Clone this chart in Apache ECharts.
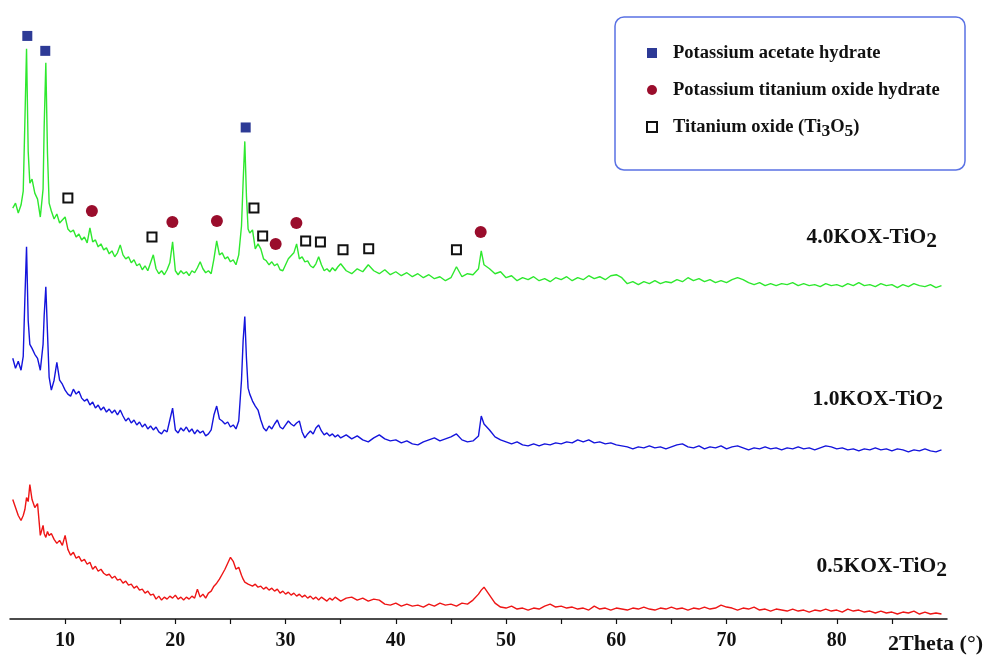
<!DOCTYPE html>
<html><head><meta charset="utf-8">
<script src="https://cdn.jsdelivr.net/npm/echarts@6/dist/echarts.min.js"></script>
<style>html,body{margin:0;padding:0;background:#fff}#c{width:988px;height:655px}</style>
</head><body><div id="c"></div>
<script>
// 2Theta grid (degrees)
const twoTheta = [
5.25,5.5,5.75,6.0,6.2,6.35,6.5,6.65,6.8,7.0,
7.25,7.5,7.75,8.0,8.1,8.25,8.4,8.55,8.75,9.0,
9.25,9.5,9.75,10.0,10.25,10.5,10.75,11.0,11.25,11.5,
11.75,12.0,12.25,12.5,12.75,13.0,13.25,13.5,13.75,14.0,
14.25,14.5,14.75,15.0,15.25,15.5,15.75,16.0,16.25,16.5,
16.75,17.0,17.25,17.5,17.75,18.0,18.25,18.5,18.75,19.0,
19.25,19.5,19.75,20.0,20.25,20.5,20.75,21.0,21.25,21.5,
21.75,22.0,22.25,22.5,22.75,23.0,23.25,23.5,23.75,24.0,
24.25,24.5,24.75,25.0,25.25,25.5,25.75,26.0,26.15,26.3,
26.45,26.6,26.75,27.0,27.25,27.5,27.75,28.0,28.25,28.5,
28.75,29.0,29.25,29.5,29.75,30.0,30.25,30.5,30.75,31.0,
31.25,31.5,31.75,32.0,32.25,32.5,32.75,33.0,33.25,33.5,
33.75,34.0,34.25,34.5,34.75,35.0,35.5,36.0,36.5,37.0,
37.5,38.0,38.5,39.0,39.5,40.0,40.5,41.0,41.5,42.0,
42.5,43.0,43.5,44.0,44.5,45.0,45.5,46.0,46.5,47.0,
47.5,47.75,48.0,48.5,49.0,49.5,50.0,50.5,51.0,51.5,
52.0,52.5,53.0,53.5,54.0,54.5,55.0,55.5,56.0,56.5,
57.0,57.5,58.0,58.5,59.0,59.5,60.0,60.5,61.0,61.5,
62.0,62.5,63.0,63.5,64.0,64.5,65.0,65.5,66.0,66.5,
67.0,67.5,68.0,68.5,69.0,69.5,70.0,70.5,71.0,71.5,
72.0,72.5,73.0,73.5,74.0,74.5,75.0,75.5,76.0,76.5,
77.0,77.5,78.0,78.5,79.0,79.5,80.0,80.5,81.0,81.5,
82.0,82.5,83.0,83.5,84.0,84.5,85.0,85.5,86.0,86.5,
87.0,87.5,88.0,88.5,89.0,89.5
];
// 4.0KOX-TiO2 (offset intensity, a.u.)
const kox40 = [
413,418,408,416,430,500,573,470,438,442,
428,422,404,432,495,559,468,418,410,402,
407,398,401,404,392,389,391,384,387,381,
384,378,393,379,381,374,377,371,373,367,
370,364,368,376,366,362,364,358,361,355,
357,351,355,350,358,366,352,347,350,346,
351,358,379,350,346,350,347,349,345,350,
348,353,359,352,348,350,347,362,380,366,
368,362,364,359,361,356,366,395,440,480,
425,392,388,391,372,377,372,362,360,356,
359,355,357,351,350,356,362,365,368,377,
362,364,359,360,355,353,357,364,356,350,
352,349,353,350,354,357,350,347,352,349,
356,350,347,351,346,349,345,348,344,347,
343,346,342,344,340,343,354,344,347,346,
352,370,356,352,347,349,343,345,340,343,
341,344,340,342,339,343,341,344,340,343,
341,345,342,344,341,345,346,343,337,339,
336,339,337,340,337,339,338,341,339,343,
340,342,339,341,338,340,338,341,343,341,
338,336,338,335,337,335,337,336,338,335,
337,335,336,334,337,335,336,334,337,335,
338,335,336,334,337,335,336,333,336,334,
337,335,334,336,333,335
];
// 1.0KOX-TiO2
const kox10 = [
262,252,259,250,264,322,374,300,276,272,
266,262,250,276,305,334,288,243,230,240,
258,240,236,230,226,224,231,226,229,222,
219,221,215,218,212,215,210,213,208,211,
207,210,205,210,204,199,202,197,200,195,
198,193,196,191,194,190,193,188,186,190,
188,200,212,190,187,192,189,193,188,191,
186,190,187,189,184,186,190,205,214,201,
199,196,198,193,195,191,199,240,280,304,
262,232,226,219,214,210,200,192,189,194,
191,196,200,193,191,195,199,196,194,197,
199,188,182,186,189,186,192,195,189,185,
187,184,186,183,185,182,185,181,184,180,
178,182,185,181,179,180,177,179,176,175,
178,180,182,179,181,183,186,180,178,179,
184,204,196,190,183,180,178,176,178,175,
174,176,174,176,175,177,176,178,177,180,
178,180,177,178,176,177,175,174,173,171,
173,172,174,172,173,171,173,175,176,173,
172,174,171,173,172,174,171,173,174,172,
170,172,171,173,171,172,170,172,171,173,
171,172,170,172,174,173,171,172,170,171,
169,171,170,172,170,171,169,171,170,168,
170,169,171,169,168,170
];
// 0.5KOX-TiO2
const kox05 = [
120,112,104,99,104,110,122,118,135,120,
112,116,84,94,86,82,88,84,86,80,
76,79,74,84,70,64,67,61,63,58,
60,55,57,50,53,48,50,46,44,45,
41,43,39,40,36,38,34,35,31,33,
29,30,26,28,24,25,20,23,19,22,
20,23,21,24,20,22,19,22,20,23,
21,30,22,25,21,26,28,33,36,40,
45,50,56,62,58,50,52,44,40,37,
38,35,36,33,35,32,33,30,32,29,
31,28,30,26,28,25,27,24,26,23,
25,22,24,21,23,20,22,19,22,20,
18,21,19,22,20,18,21,22,19,21,
18,20,19,15,14,16,13,15,13,14,
12,15,13,16,14,15,13,16,15,19,
25,29,32,24,16,12,11,13,10,11,
9,11,10,13,15,12,13,11,12,10,
11,9,13,10,11,9,11,10,9,11,
10,12,10,9,11,10,12,10,11,9,
11,10,12,10,11,14,12,11,9,11,
10,12,9,10,8,10,9,8,10,8,
9,7,9,8,10,8,9,7,10,8,
9,7,8,6,8,6,7,5,7,6,
8,5,7,5,6,5
];
// Phase markers [2Theta, height]
const acetatePeaks = [[6.57,586],[8.2,571],[26.38,494]];
const ktoPeaks = [[12.43,410],[19.73,399],[23.77,400],[29.1,377],[30.98,398],[47.7,389]];
const ti3o5Peaks = [[10.25,423],[17.88,384],[27.13,413],[27.92,385],[31.82,380],[33.16,379],[35.21,371],[37.54,372],[45.5,371]];
const tickLabels = [10,20,30,40,50,60,70,80];
const tickMarks = [10,15,20,25,30,35,40,45,50,55,60,65,70,75,80,85];
const sampleNames = ['4.0KOX-TiO{s|2}','1.0KOX-TiO{s|2}','0.5KOX-TiO{s|2}'];
const phaseNames = ['Potassium acetate hydrate','Potassium titanium oxide hydrate','Titanium oxide (Ti3O5)'];

const FONT = 'Liberation Serif';
const pair = arr => twoTheta.map((t, i) => [t, arr[i]]);
const chart = echarts.init(document.getElementById('c'));
const labelStyle = (text, x, y) => ({
  type: 'text', x: x, y: y, z: 10,
  style: {
    text: text, align: 'right', verticalAlign: 'middle',
    font: 'bold 21.5px "' + FONT + '"', fontFamily: FONT, fontWeight: 'bold', fontSize: 21.5,
    lineHeight: 30, fill: '#111',
    rich: { s: { fontFamily: FONT, fontWeight: 'bold', fontSize: 21.5, lineHeight: 16, verticalAlign: 'bottom', fill: '#111' } }
  }
});
chart.setOption({
  animation: false,
  backgroundColor: '#fff',
  grid: { left: 10, right: 41, top: 22, bottom: 33 },
  xAxis: {
    type: 'value', min: 5, max: 90, interval: 5,
    name: '2Theta (°)', nameLocation: 'end', nameGap: 36,
    nameTextStyle: { fontFamily: FONT, fontWeight: 'bold', fontSize: 22, color: '#111', align: 'right', verticalAlign: 'top', padding: [14, 0, 0, 0] },
    axisLine: { show: true, lineStyle: { color: '#111', width: 1.5 } },
    axisTick: { show: true, length: 5, customValues: tickMarks, lineStyle: { color: '#111', width: 1.2 } },
    axisLabel: { customValues: tickLabels, margin: 12, fontFamily: FONT, fontWeight: 'bold', fontSize: 20, color: '#111' },
    splitLine: { show: false }
  },
  yAxis: { type: 'value', min: 0, max: 600, show: false },
  legend: {
    data: phaseNames, orient: 'vertical', left: 641, top: 35,
    itemWidth: 10, itemHeight: 10, itemGap: 11, selectedMode: false,
    formatter: n => n === phaseNames[2] ? 'Titanium oxide (Ti{s|3}O{s|5})' : n,
    textStyle: {
      fontFamily: FONT, fontWeight: 'bold', fontSize: 18.5, color: '#111', lineHeight: 26, padding: [0, 0, 0, 11],
      rich: { s: { fontFamily: FONT, fontWeight: 'bold', fontSize: 17.5, lineHeight: 12, verticalAlign: 'bottom', color: '#111' } }
    }
  },
  graphic: [
    { type: 'rect', z: 0, shape: { x: 615, y: 17, width: 350, height: 153, r: 9 }, style: { fill: 'none', stroke: '#5a72e4', lineWidth: 1.5 } },
    labelStyle(sampleNames[0], 937, 237),
    labelStyle(sampleNames[1], 943, 399),
    labelStyle(sampleNames[2], 947, 566)
  ],
  series: [
    { name: '4.0KOX', type: 'line', data: pair(kox40), showSymbol: false, lineStyle: { color: '#2ee82e', width: 1.4 }, z: 2 },
    { name: '1.0KOX', type: 'line', data: pair(kox10), showSymbol: false, lineStyle: { color: '#1414dc', width: 1.4 }, z: 2 },
    { name: '0.5KOX', type: 'line', data: pair(kox05), showSymbol: false, lineStyle: { color: '#ee1515', width: 1.4 }, z: 2 },
    { name: phaseNames[0], type: 'scatter', data: acetatePeaks, symbol: 'rect', symbolSize: 10, itemStyle: { color: '#2d3a96', opacity: 1 }, z: 3 },
    { name: phaseNames[1], type: 'scatter', data: ktoPeaks, symbol: 'circle', symbolSize: 12, itemStyle: { color: '#9a0d2c', opacity: 1 }, z: 3 },
    { name: phaseNames[2], type: 'scatter', data: ti3o5Peaks, symbol: 'rect', symbolSize: 9, itemStyle: { color: '#fff', borderColor: '#111', borderWidth: 2, opacity: 1 }, z: 3 }
  ]
});
</script></body></html>
